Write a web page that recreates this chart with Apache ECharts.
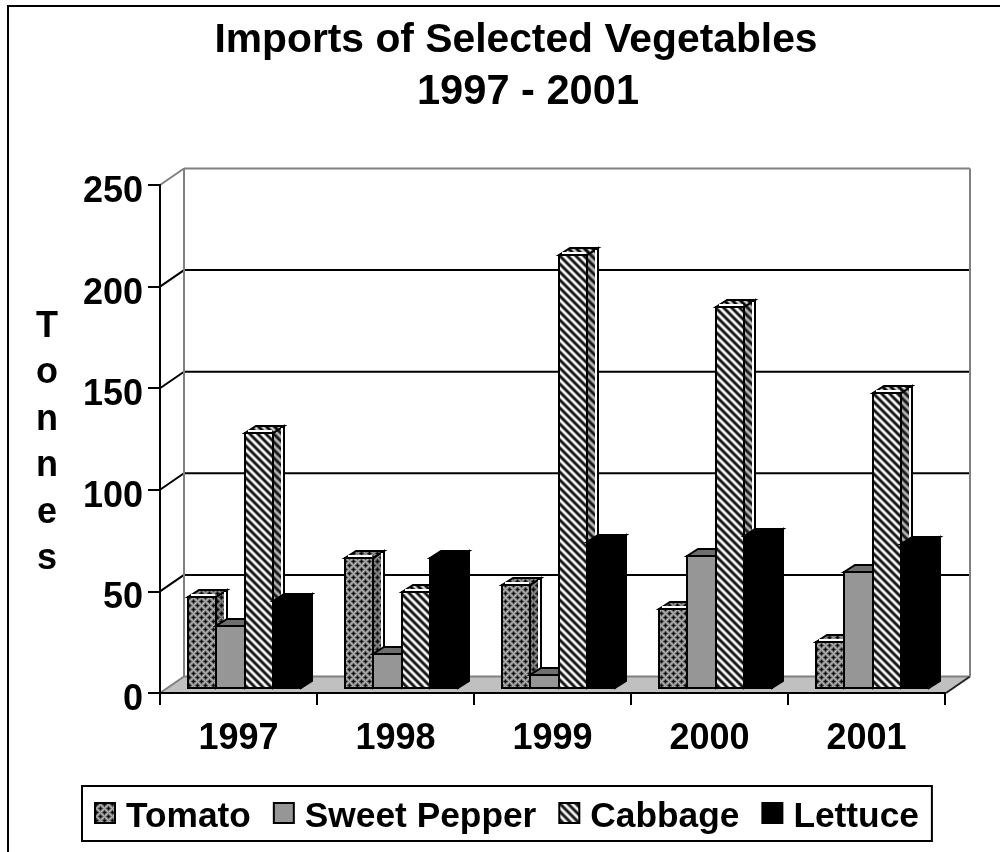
<!DOCTYPE html>
<html>
<head>
<meta charset="utf-8">
<style>html,body{margin:0;padding:0;background:#fff}#c{width:1000px;height:852px}</style>
<script src="https://cdn.jsdelivr.net/npm/echarts@6/dist/echarts.min.js"></script>
</head>
<body>
<div id="c"></div>
<script>
const categories = ['1997', '1998', '1999', '2000', '2001'];
const yTicks = [0, 50, 100, 150, 200, 250];
const seriesNames = ['Tomato', 'Sweet Pepper', 'Cabbage', 'Lettuce'];
const tomato = [45, 64, 50.7, 39, 22.6];
const sweetPepper = [30.5, 16.7, 6.4, 65, 57];
const cabbage = [125.5, 47, 213, 187.5, 145];
const lettuce = [43, 64, 72, 75, 71];
const seriesValues = [tomato, sweetPepper, cabbage, lettuce];

const FONT = '"Liberation Sans", Arial, sans-serif';
// Oblique projection of the 3D box
const wallDx = 24, wallDy = -16.5;
const frontDx = 6, frontDy = -5;
const barDx = 11, barDy = -7;
const clusterShare = 0.725;

function tile(size, paint) {
  const c = document.createElement('canvas');
  c.width = c.height = size;
  paint(c.getContext('2d'));
  return { image: c, repeat: 'repeat' };
}
function stripes(colors) {
  const n = colors.length;
  return tile(n, g => {
    for (let y = 0; y < n; y++) for (let x = 0; x < n; x++) {
      g.fillStyle = colors[(x - y + n) % n];
      g.fillRect(x, y, 1, 1);
    }
  });
}
function checks(levels) {
  // staggered lattice of dark diamonds; colour by L1 distance to the nearest lattice point
  const wrap = d => Math.min(Math.abs(d), 8 - Math.abs(d));
  return tile(8, g => {
    for (let y = 0; y < 8; y++) for (let x = 0; x < 8; x++) {
      const d = Math.min(wrap(x - 1) + wrap(y - 1), wrap(x - 5) + wrap(y - 5));
      g.fillStyle = levels[d];
      g.fillRect(x, y, 1, 1);
    }
  });
}
const fills = [
  { front: checks(['#000', '#1a1a1a', '#555', '#8c8c8c', '#b0b0b0']),
    top: checks(['#000', '#111', '#444', '#777', '#999']),
    side: checks(['#000', '#111', '#3c3c3c', '#6a6a6a', '#8c8c8c']) },
  { front: '#969696', top: '#6e6e6e', side: '#6e6e6e' },
  { front: stripes(['#111', '#333', '#888', '#e8e8e8', '#fff', '#ddd', '#777', '#222']),
    top: stripes(['#000', '#222', '#666', '#bbb', '#ddd', '#aaa', '#555', '#111']),
    side: stripes(['#111', '#333', '#666', '#aaa', '#bbb', '#999', '#555', '#222']) },
  { front: '#000', top: '#000', side: '#000' }
];

function renderWalls(params, api) {
  const v = api.value(0);
  const cs = params.coordSys;
  const left = cs.x, right = cs.x + cs.width + 1;
  const y = api.coord([0, v])[1];
  const kids = [];
  const line = (x1, y1, x2, y2, stroke) => ({
    type: 'line', shape: { x1, y1, x2, y2 }, style: { stroke, lineWidth: 2, fill: null }
  });
  const gray = '#808080';
  if (v === 0) {
    kids.push({ type: 'polygon', shape: { points: [[left, y], [left + wallDx, y + wallDy], [right + wallDx, y + wallDy], [right, y]] },
      style: { fill: '#c0c0c0', stroke: null } });
    kids.push(line(left + wallDx, y + wallDy, right + wallDx, y + wallDy, gray));
    kids.push(line(left, y, left + wallDx, y + wallDy, gray));
    kids.push(line(right, y, right + wallDx, y + wallDy, '#222'));
  } else if (v === yTicks[yTicks.length - 1]) {
    const y0 = api.coord([0, 0])[1] + wallDy;
    kids.push(line(left + wallDx, y + wallDy, right + wallDx, y + wallDy, gray));
    kids.push(line(left, y, left + wallDx, y + wallDy, gray));
    kids.push(line(left + wallDx, y + wallDy, left + wallDx, y0, gray));
    kids.push(line(right + wallDx, y + wallDy, right + wallDx, y0, gray));
  } else {
    kids.push(line(left + wallDx, y + wallDy, right + wallDx, y + wallDy, '#000'));
    kids.push(line(left, y, left + wallDx, y + wallDy, '#000'));
  }
  return { type: 'group', children: kids };
}

function makeBarRenderer(si) {
  return function (params, api) {
    const cat = api.value(0);
    const top = api.coord([cat, api.value(1)]);
    const base = api.coord([cat, 0]);
    const band = api.size([1, 0])[0];
    const w = band * clusterShare / seriesNames.length;
    const x = Math.round(top[0] + frontDx - band * clusterShare / 2 + si * w);
    const x2 = Math.round(top[0] + frontDx - band * clusterShare / 2 + (si + 1) * w);
    const yT = Math.round(top[1] + frontDy), yB = Math.round(base[1] + frontDy);
    const f = fills[si];
    const st = fill => ({ fill, stroke: '#000', lineWidth: 2, lineJoin: 'miter' });
    const kids = [
      { type: 'polygon', shape: { points: [[x2, yT], [x2 + barDx, yT + barDy], [x2 + barDx, yB + barDy], [x2, yB]] }, style: st(f.side) },
      { type: 'polygon', shape: { points: [[x, yT], [x + barDx, yT + barDy], [x2 + barDx, yT + barDy], [x2, yT]] }, style: st(f.top) }
    ];
    if (si === 0 || si === 2) {
      // the light rim that the patterned boxes show along their edges
      kids.push({ type: 'line', shape: { x1: x + 3, y1: yT - 2, x2: x2 - 1, y2: yT - 2 }, style: { stroke: '#fff', lineWidth: 2 } });
      kids.push({ type: 'line', shape: { x1: x2 + barDx - 2, y1: yT + barDy + 2, x2: x2 + barDx - 2, y2: yB + barDy }, style: { stroke: '#fff', lineWidth: 2 } });
    }
    kids.push({ type: 'rect', shape: { x, y: yT, width: x2 - x, height: yB - yT }, style: st(f.front) });
    return { type: 'group', children: kids };
  };
}

const labelStyle = { fontFamily: FONT, fontWeight: 'bold', fontSize: 36, color: '#000' };
const legendStyle = { fontFamily: FONT, fontWeight: 'bold', fontSize: 35.3, color: '#000' };

const option = {
  backgroundColor: '#fff',
  animation: false,
  title: [
    { text: 'Imports of Selected Vegetables', left: 516, top: 20, padding: 0, textAlign: 'center',
      textStyle: { fontFamily: FONT, fontWeight: 'bold', fontSize: 40.8, color: '#000' } },
    { text: '1997 - 2001', left: 528, top: 72, padding: 0, textAlign: 'center',
      textStyle: { fontFamily: FONT, fontWeight: 'bold', fontSize: 41.6, color: '#000' } }
  ],
  grid: { left: 160, top: 185, width: 785, height: 508, containLabel: false },
  xAxis: {
    type: 'category', data: categories, z: 5,
    axisLine: { lineStyle: { color: '#000', width: 2 } },
    axisTick: { show: true, length: 12, alignWithLabel: false, lineStyle: { color: '#000', width: 2 } },
    axisLabel: Object.assign({ margin: 28 }, labelStyle),
    splitLine: { show: false }
  },
  yAxis: {
    type: 'value', min: 0, max: 250, interval: 50, z: 5,
    axisLine: { show: true, lineStyle: { color: '#000', width: 2 } },
    axisTick: { show: true, length: 12, lineStyle: { color: '#000', width: 2 } },
    axisLabel: Object.assign({ margin: 17, verticalAlign: 'top', lineHeight: 14 }, labelStyle),
    splitLine: { show: false },
    name: '{s| }\n{n|T}\n{n|o}\n{n|n}\n{n|n}\n{n|e}\n{n|s}',
    nameLocation: 'middle', nameRotate: 0, nameGap: 113,
    nameTextStyle: {
      align: 'center', verticalAlign: 'middle',
      rich: {
        s: { fontSize: 1, height: 8, lineHeight: 8 },
        n: Object.assign({ lineHeight: 46.4, align: 'center' }, labelStyle)
      }
    }
  },
  legend: {
    data: seriesNames,
    icon: 'rect',
    left: 82, top: 786,
    orient: 'horizontal',
    padding: [14, 13, 6, 12],
    itemGap: 22,
    itemWidth: 20, itemHeight: 20,
    borderColor: '#000', borderWidth: 2, borderRadius: 0,
    selectedMode: false,
    formatter: name => '{t|' + name + '}',
    textStyle: Object.assign({ rich: { t: Object.assign({ padding: [0, 0, 0, 6], lineHeight: 44, verticalAlign: 'bottom' }, legendStyle) } }, legendStyle)
  },
  graphic: [
    { type: 'line', shape: { x1: 8, y1: 6, x2: 8, y2: 852 }, style: { stroke: '#000', lineWidth: 2 }, silent: true },
    { type: 'line', shape: { x1: 7, y1: 6, x2: 1000, y2: 6 }, style: { stroke: '#000', lineWidth: 2 }, silent: true }
  ],
  series: [
    { type: 'custom', name: 'walls', z: 1, silent: true, clip: false,
      data: yTicks.map(v => [v]), encode: { y: 0 }, renderItem: renderWalls }
  ].concat(seriesNames.map((name, si) => ({
    type: 'custom', name, z: 2 + si, clip: false,
    itemStyle: { color: fills[si].front, borderColor: '#000', borderWidth: 2 },
    data: seriesValues[si].map((v, i) => [i, v]),
    encode: { x: 0, y: 1 },
    renderItem: makeBarRenderer(si)
  })))
};
echarts.init(document.getElementById('c'), null, { renderer: 'canvas' }).setOption(option);
</script>
</body>
</html>
